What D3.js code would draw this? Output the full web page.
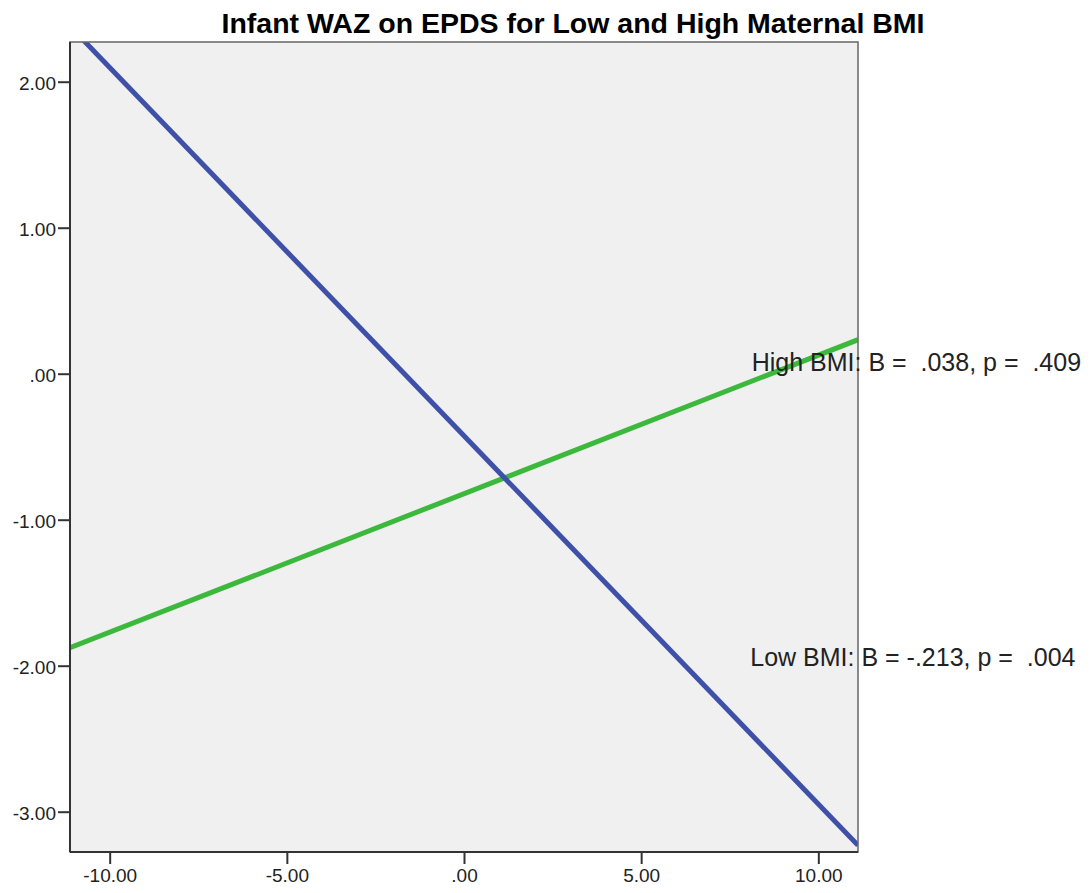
<!DOCTYPE html>
<html>
<head>
<meta charset="utf-8">
<script src="https://cdn.jsdelivr.net/npm/d3@7"></script>
<style>
  body { margin: 0; background: #fff; }
  text { font-family: "Liberation Sans", Arial, sans-serif; }
</style>
</head>
<body>
<svg id="chart" width="1092" height="893"></svg>
<script>
// axis extents and ticks (EPDS centered on x, infant WAZ on y)
const xDomain = [-11.12, 11.12];
const yDomain = [-3.276, 2.272];
const xTicks = [-10, -5, 0, 5, 10];
const yTicks = [-3, -2, -1, 0, 1, 2];

// fitted regression lines, endpoints at the x extent
const lowBmiX = [-11.12, 11.12];
const lowBmiY = [2.38, -3.23];
const highBmiX = [-11.12, 11.12];
const highBmiY = [-1.877, 0.233];

// annotation texts and where they sit (data coordinates)
const labelText = ["High BMI: B =  .038, p =  .409", "Low BMI: B = -.213, p =  .004"];
const labelX = [8.12, 8.08];
const labelY = [0.02, -2.005];

const title = "Infant WAZ on EPDS for Low and High Maternal BMI";

const margin = { top: 42, left: 70, right: 234, bottom: 41 };
const width = 1092 - margin.left - margin.right;
const height = 893 - margin.top - margin.bottom;

const svg = d3.select("#chart");
const g = svg.append("g").attr("transform", `translate(${margin.left},${margin.top})`);

const x = d3.scaleLinear().domain(xDomain).range([0, width]);
const y = d3.scaleLinear().domain(yDomain).range([height, 0]);

// SPSS style: plain hyphen, no leading zero
const fmt = (d) => d3.format(".2f")(d).replace("\u2212", "-").replace(/^(-?)0\./, "$1.");

g.append("rect")
  .attr("width", width)
  .attr("height", height)
  .attr("fill", "#f0f0f0");

g.append("clipPath")
  .attr("id", "plotclip")
  .append("rect")
  .attr("width", width)
  .attr("height", height);

const line = d3
  .line()
  .x((d) => x(d[0]))
  .y((d) => y(d[1]));

const series = [
  { xs: highBmiX, ys: highBmiY, color: "#3cb93c" },
  { xs: lowBmiX, ys: lowBmiY, color: "#3e50a8" },
];

g.append("g")
  .attr("clip-path", "url(#plotclip)")
  .selectAll("path")
  .data(series)
  .enter()
  .append("path")
  .attr("d", (s) => line(s.xs.map((v, i) => [v, s.ys[i]])))
  .attr("fill", "none")
  .attr("stroke", (s) => s.color)
  .attr("stroke-width", 5);

// frame
g.append("rect")
  .attr("width", width)
  .attr("height", height)
  .attr("fill", "none")
  .attr("stroke", "#666")
  .attr("stroke-width", 1.5);
g.append("line")
  .attr("x1", 0).attr("x2", 0)
  .attr("y1", 0).attr("y2", height)
  .attr("stroke", "#333").attr("stroke-width", 2);
g.append("line")
  .attr("x1", 0).attr("x2", width)
  .attr("y1", height).attr("y2", height)
  .attr("stroke", "#333").attr("stroke-width", 2);

const yAxis = g.append("g")
  .call(d3.axisLeft(y).tickValues(yTicks).tickSize(12).tickPadding(2).tickFormat(fmt));
const xAxis = g.append("g")
  .attr("transform", `translate(0,${height})`)
  .call(d3.axisBottom(x).tickValues(xTicks).tickSize(12).tickPadding(5).tickFormat(fmt));

[yAxis, xAxis].forEach((a) => {
  a.select(".domain").remove();
  a.selectAll(".tick line").attr("stroke", "#333").attr("stroke-width", 2);
  a.selectAll(".tick text")
    .attr("fill", "#222")
    .style("font-size", "19px");
});
yAxis.selectAll(".tick text").attr("dy", "0.42em");

g.selectAll(".fit-label")
  .data(labelText)
  .enter()
  .append("text")
  .attr("class", "fit-label")
  .attr("x", (d, i) => x(labelX[i]))
  .attr("y", (d, i) => y(labelY[i]))
  .attr("fill", "#222")
  .style("font-size", "25px")
  .style("white-space", "pre")
  .text((d) => d);

svg.append("text")
  .attr("x", 573)
  .attr("y", 33)
  .attr("text-anchor", "middle")
  .attr("fill", "#000")
  .style("font-size", "28.5px")
  .style("font-weight", "bold")
  .text(title);
</script>
</body>
</html>
